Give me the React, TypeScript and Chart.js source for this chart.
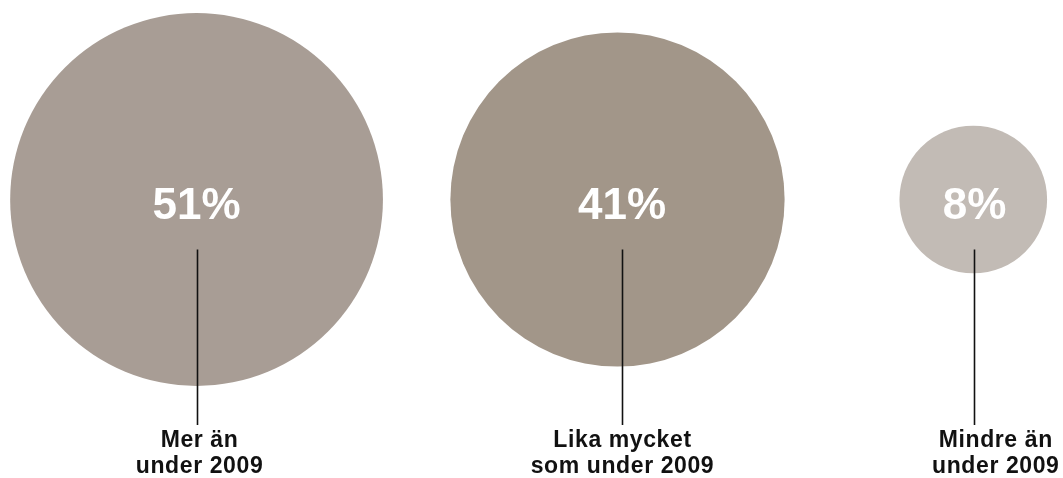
import React, { useEffect, useRef } from "react";
import { Chart, registerables } from "chart.js";

Chart.register(...registerables);

const categories: string[][] = [
  ["Mer än", "under 2009"],
  ["Lika mycket", "som under 2009"],
  ["Mindre än", "under 2009"],
];
const values: number[] = [51, 41, 8];
const valueLabels: string[] = ["51%", "41%", "8%"];
// horizontal placement of each bubble on a 0–100 axis
const columns: number[] = [18.49, 58.09, 91.56];
const colors: string[] = ["#a89d95", "#a29689", "#c2bbb5"];

// style: small horizontal nudges of the annotations relative to bubble centre
const markDx: number[] = [0, 4.5, 1.2];
const labelDx: number[] = [3, 5, 22.5];

const W = 1063;
const H = 478;
const RADIUS_PER_SQRT = 26.1;
const FONT = '"Liberation Sans", Arial, Helvetica, sans-serif';

const labelPlugin = {
  id: "bubbleLabels",
  afterDatasetsDraw(chart: any) {
    const ctx = chart.ctx;
    const meta = chart.getDatasetMeta(0);
    meta.data.forEach((el: any, i: number) => {
      const x = el.x;
      const y = el.y;
      ctx.save();
      // percentage
      ctx.fillStyle = "#ffffff";
      ctx.font = `bold 44px ${FONT}`;
      ctx.textAlign = "center";
      ctx.textBaseline = "alphabetic";
      ctx.fillText(valueLabels[i], x + markDx[i], y + 19);
      // leader line
      ctx.strokeStyle = "#111111";
      ctx.lineWidth = 1.6;
      const lx = Math.round(x + markDx[i]) + 0.5;
      ctx.beginPath();
      ctx.moveTo(lx, y + 50);
      ctx.lineTo(lx, 425);
      ctx.stroke();
      // category label
      ctx.fillStyle = "#111111";
      ctx.font = `bold 23px ${FONT}`;
      (ctx as any).letterSpacing = "0.6px";
      categories[i].forEach((line, j) => {
        ctx.fillText(line, x + labelDx[i], 447 + j * 26);
      });
      ctx.restore();
    });
  },
};

export default function App() {
  const ref = useRef<HTMLCanvasElement | null>(null);
  useEffect(() => {
    document.body.style.margin = "0";
    if (!ref.current) return;
    const chart = new Chart(ref.current, {
      type: "bubble",
      data: {
        datasets: [
          {
            data: values.map((v, i) => ({
              x: columns[i],
              y: 0,
              r: RADIUS_PER_SQRT * Math.sqrt(v),
            })),
            backgroundColor: colors,
            borderWidth: 0,
            hoverRadius: 0,
            clip: false as any,
          },
        ],
      },
      options: {
        responsive: false,
        animation: false,
        layout: {
          autoPadding: false,
          padding: { top: 0, left: 0, right: 0, bottom: 79 },
        } as any,
        plugins: { legend: { display: false }, tooltip: { enabled: false } },
        scales: {
          x: { type: "linear", min: 0, max: 100, display: false },
          y: { type: "linear", min: -1, max: 1, display: false },
        },
        events: [],
      },
      plugins: [labelPlugin],
    });
    return () => chart.destroy();
  }, []);
  return (
    <div style={{ position: "absolute", left: 0, top: 0 }}>
      <canvas ref={ref} width={W} height={H} style={{ display: "block" }} />
    </div>
  );
}
